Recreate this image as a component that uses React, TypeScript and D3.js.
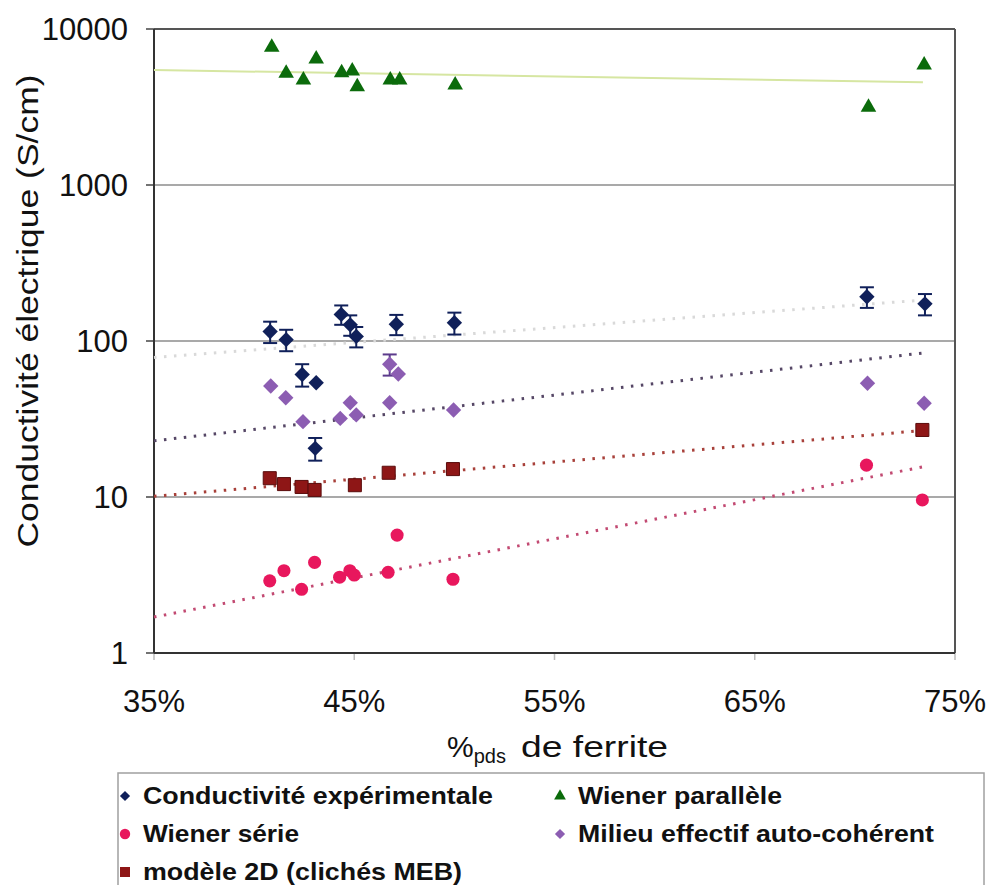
import React from "react";
import * as d3 from "d3";

// ---------- data ----------
const xTicks = [35, 45, 55, 65, 75];
const yTicks = [1, 10, 100, 1000, 10000];

const expX = [40.8, 41.6, 42.4, 43.1, 43.05, 44.35, 44.8, 45.1, 47.1, 50.0, 70.6, 73.5];
const expY = [115, 102, 61, 54, 20.5, 148, 127, 107, 128, 131, 192, 173];
const expErr = [18, 16, 10, 0, 3.4, 21, 19, 16, 19, 21, 29, 27];

const parX = [40.88, 41.6, 42.46, 43.1, 44.37, 44.9, 45.15, 46.8, 47.27, 50.04, 70.68, 73.46];
const parY = [7630, 5200, 4710, 6420, 5250, 5380, 4270, 4710, 4710, 4380, 3150, 5880];

const serX = [40.78, 41.49, 42.37, 43.02, 44.27, 44.78, 45.0, 46.69, 47.14, 49.93, 70.58, 73.37];
const serY = [2.9, 3.37, 2.56, 3.81, 3.06, 3.37, 3.16, 3.29, 5.7, 2.97, 16.0, 9.57];

const mecX = [40.83, 41.58, 42.44, 44.3, 44.8, 45.1, 46.77, 47.2, 46.77, 49.96, 70.63, 73.46];
const mecY = [51.5, 43.3, 30.4, 31.9, 40.2, 33.6, 71, 61.4, 40.2, 36.1, 53.6, 39.9];
const mecErr = [0, 0, 0, 0, 0, 0, 11, 0, 0, 0, 0, 0];

const m2dX = [40.78, 41.49, 42.37, 43.02, 45.03, 46.72, 49.93, 73.37];
const m2dY = [13.2, 12.1, 11.6, 11.1, 11.9, 14.3, 15.1, 26.9];

// trend lines: [x0, y0, x1, y1]
const trendExp = [35, 78.5, 73.4, 183];
const trendPar = [35, 5460, 73.4, 4550];
const trendMec = [35, 22.9, 73.4, 83.8];
const trend2D = [35, 10.1, 73.4, 26.7];
const trendSer = [35, 1.7, 73.4, 15.6];

const legendLabels = [
  "Conductivité expérimentale",
  "Wiener parallèle",
  "Wiener série",
  "Milieu effectif auto-cohérent",
  "modèle 2D (clichés MEB)",
];

// ---------- layout / style ----------
const W = 989, H = 885;
const L = 154, R = 955, T = 29, B = 653;
const FONT = "'Liberation Sans', Arial, Helvetica, sans-serif";
const C_EXP = "#10205a";
const C_PAR = "#0b6b0b";
const C_SER = "#e8175d";
const C_MEC = "#8c5db2";
const C_2D = "#8e1616";

const legendLayout = [
  { x: 125, y: 804, w: 350, shape: "diamond", color: C_EXP },
  { x: 560, y: 804, w: 204, shape: "triangle", color: C_PAR },
  { x: 125, y: 842, w: 156, shape: "circle", color: C_SER },
  { x: 560, y: 842, w: 356, shape: "diamond", color: C_MEC },
  { x: 125, y: 880, w: 319, shape: "square", color: C_2D },
];

export default function App() {
  const x = d3.scaleLinear().domain([35, 75]).range([L, R]);
  const y = d3.scaleLog().domain([1, 10000]).range([B, T]);

  const sym = (type: any, size: number) => d3.symbol().type(type).size(size)() as string;
  const diamond = sym(d3.symbolSquare, 118);
  const tri = sym(d3.symbolTriangle, 105);
  const circ = sym(d3.symbolCircle, 135);
  const sq = sym(d3.symbolSquare, 170);

  const line = d3
    .line<[number, number]>()
    .x((d) => x(d[0]))
    .y((d) => y(d[1]));
  const trendPath = (t: number[]) =>
    line([
      [t[0], t[1]],
      [t[2], t[3]],
    ]) as string;

  const legShape = (shape: string) => {
    if (shape === "diamond") return { d: sym(d3.symbolSquare, 52), rot: 45 };
    if (shape === "triangle") return { d: sym(d3.symbolTriangle, 60), rot: 0 };
    if (shape === "circle") return { d: sym(d3.symbolCircle, 85), rot: 0 };
    return { d: sym(d3.symbolSquare, 100), rot: 0 };
  };

  const dotted = { strokeDasharray: "2.5 7.5", strokeWidth: 3, fill: "none" };

  return (
    <svg
      width={W}
      height={H}
      style={{ position: "absolute", left: 0, top: 0, background: "#fff" }}
      fontFamily={FONT}
    >
      <rect x={0} y={0} width={W} height={H} fill="#fff" />
      {/* gridlines */}
      {yTicks.slice(1, 4).map((t) => (
        <line key={"g" + t} x1={L} x2={R} y1={y(t)} y2={y(t)} stroke="#a9a9a9" strokeWidth={2} />
      ))}
      {/* frame */}
      <line x1={L} x2={R} y1={T} y2={T} stroke="#555" strokeWidth={2} />
      <line x1={R} x2={R} y1={T} y2={B} stroke="#555" strokeWidth={2} />
      {/* x ticks */}
      {xTicks.map((t) => (
        <line key={"xt" + t} x1={x(t)} x2={x(t)} y1={B} y2={B + 7} stroke="#bbb" strokeWidth={1.5} />
      ))}
      {/* y ticks */}
      {yTicks.map((t) => (
        <line key={"yt" + t} x1={L - 8} x2={L} y1={y(t)} y2={y(t)} stroke="#444" strokeWidth={1.5} />
      ))}
      <line x1={L} x2={L} y1={T} y2={B} stroke="#333" strokeWidth={2} />
      <line x1={L} x2={R} y1={B} y2={B} stroke="#333" strokeWidth={2} />

      {/* tick labels */}
      {yTicks.map((t) => (
        <text key={"yl" + t} x={128} y={y(t)} dy="0.36em" textAnchor="end" fontSize={31} fill="#111">
          {t}
        </text>
      ))}
      {xTicks.map((t) => (
        <text key={"xl" + t} x={x(t)} y={712} textAnchor="middle" fontSize={31} fill="#111">
          {t}%
        </text>
      ))}

      {/* axis titles */}
      <text
        transform="translate(38,311) rotate(-90)"
        textAnchor="middle"
        fontSize={30}
        fill="#111"
        textLength={473}
        lengthAdjust="spacingAndGlyphs"
      >
        Conductivité électrique (S/cm)
      </text>
      <text x={447} y={757} fontSize={30} fill="#111">
        %
        <tspan fontSize={20} dy={6}>pds</tspan>
      </text>
      <text x={521} y={757} fontSize={30} fill="#111" textLength={147} lengthAdjust="spacingAndGlyphs">
        de ferrite
      </text>

      {/* trend lines */}
      <path d={trendPath(trendPar)} stroke="#d6e6a2" strokeWidth={2} fill="none" />
      <path d={trendPath(trendExp)} stroke="#d9d9d9" {...dotted} />
      <path d={trendPath(trendMec)} stroke="#564766" {...dotted} />
      <path d={trendPath(trend2D)} stroke="#a8403a" {...dotted} />
      <path d={trendPath(trendSer)} stroke="#c24a72" {...dotted} />

      {/* Wiener parallèle */}
      {parX.map((v, i) => (
        <path key={"p" + i} d={tri} transform={`translate(${x(v)},${y(parY[i])})`} fill={C_PAR} />
      ))}

      {/* Milieu effectif */}
      {mecX.map((v, i) => (
        <g key={"m" + i}>
          {mecErr[i] > 0 && (
            <g stroke="#5c3b8c" strokeWidth={2}>
              <line x1={x(v)} x2={x(v)} y1={y(mecY[i] + mecErr[i])} y2={y(mecY[i] - mecErr[i])} />
              <line x1={x(v) - 7} x2={x(v) + 7} y1={y(mecY[i] + mecErr[i])} y2={y(mecY[i] + mecErr[i])} />
              <line x1={x(v) - 7} x2={x(v) + 7} y1={y(mecY[i] - mecErr[i])} y2={y(mecY[i] - mecErr[i])} />
            </g>
          )}
          <path d={diamond} transform={`translate(${x(v)},${y(mecY[i])}) rotate(45)`} fill={C_MEC} />
        </g>
      ))}

      {/* modèle 2D */}
      {m2dX.map((v, i) => (
        <path
          key={"s" + i}
          d={sq}
          transform={`translate(${x(v)},${y(m2dY[i])})`}
          fill={C_2D}
          stroke="#5a0c0c"
          strokeWidth={1}
        />
      ))}

      {/* Wiener série */}
      {serX.map((v, i) => (
        <path key={"c" + i} d={circ} transform={`translate(${x(v)},${y(serY[i])})`} fill={C_SER} />
      ))}

      {/* Experimental */}
      {expX.map((v, i) => (
        <g key={"e" + i}>
          {expErr[i] > 0 && (
            <g stroke={C_EXP} strokeWidth={2}>
              <line x1={x(v)} x2={x(v)} y1={y(expY[i] + expErr[i])} y2={y(expY[i] - expErr[i])} />
              <line x1={x(v) - 7} x2={x(v) + 7} y1={y(expY[i] + expErr[i])} y2={y(expY[i] + expErr[i])} />
              <line x1={x(v) - 7} x2={x(v) + 7} y1={y(expY[i] - expErr[i])} y2={y(expY[i] - expErr[i])} />
            </g>
          )}
          <path d={diamond} transform={`translate(${x(v)},${y(expY[i])}) rotate(45)`} fill={C_EXP} />
        </g>
      ))}

      {/* legend */}
      <rect x={118} y={773} width={866} height={130} fill="#fff" stroke="#a0a0a0" strokeWidth={1.5} />
      {legendLayout.map((l, i) => {
        const s = legShape(l.shape);
        return (
          <g key={"lg" + i}>
            <path d={s.d} transform={`translate(${l.x},${l.y - 8}) rotate(${s.rot})`} fill={l.color} />
            <text
              x={l.x + 18}
              y={l.y}
              fontSize={24}
              fontWeight="bold"
              fill="#111"
              textLength={l.w}
              lengthAdjust="spacingAndGlyphs"
            >
              {legendLabels[i]}
            </text>
          </g>
        );
      })}
    </svg>
  );
}
